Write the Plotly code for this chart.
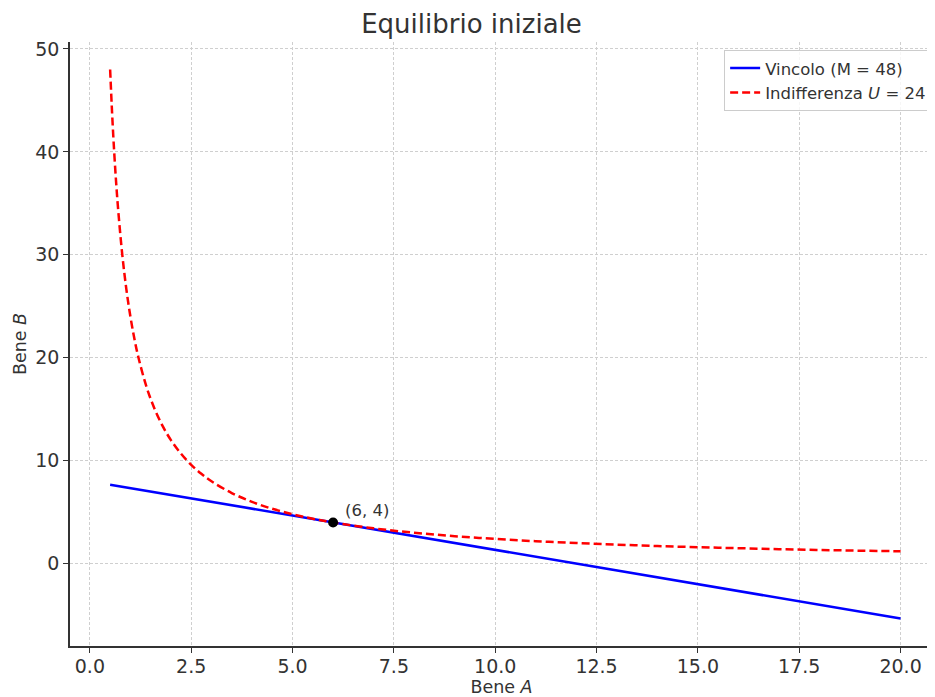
import plotly.graph_objects as go

# Budget line (two endpoints)
budget_A = [0.5, 20.0]
budget_B = [7.67, -5.33]

# Indifference curve points
indiff_A = [0.5, 0.55, 0.6, 0.65, 0.7, 0.8, 0.9, 1.0, 1.1, 1.2, 1.4, 1.6, 1.8, 2.0,
            2.25, 2.5, 2.75, 3.0, 3.5, 4.0, 4.5, 5.0, 5.5, 6.0, 7.0, 8.0, 9.0, 10.0,
            11.0, 12.0, 13.0, 14.0, 15.0, 16.0, 17.0, 18.0, 19.0, 20.0]
indiff_B = [48.0, 43.64, 40.0, 36.92, 34.29, 30.0, 26.67, 24.0, 21.82, 20.0, 17.14, 15.0,
            13.33, 12.0, 10.67, 9.6, 8.73, 8.0, 6.86, 6.0, 5.33, 4.8, 4.36, 4.0, 3.43,
            3.0, 2.67, 2.4, 2.18, 2.0, 1.85, 1.71, 1.6, 1.5, 1.41, 1.33, 1.26, 1.2]

eq_A = [6]
eq_B = [4]
eq_label = "(6, 4)"

x_ticks = [0, 2.5, 5, 7.5, 10, 12.5, 15, 17.5, 20]
y_ticks = [0, 10, 20, 30, 40, 50]

font = "DejaVu Sans"
txt = "#333333"

W, H = 927, 689  # page body has an 8px margin

fig = go.Figure()
fig.add_trace(go.Scatter(x=budget_A, y=budget_B, mode="lines",
                         line=dict(color="blue", width=2.5),
                         name="Vincolo (M = 48)"))
fig.add_trace(go.Scatter(x=indiff_A, y=indiff_B, mode="lines",
                         line=dict(color="red", width=2.5, dash="8px,4px", shape="spline"),
                         name="Indifferenza <i>U</i> = 24"))
fig.add_trace(go.Scatter(x=eq_A, y=eq_B, mode="markers",
                         marker=dict(color="black", size=10),
                         showlegend=False))
fig.add_annotation(x=eq_A[0], y=eq_B[0], text=eq_label, showarrow=False,
                   xanchor="left", yanchor="bottom", xshift=10, yshift=0,
                   font=dict(family=font, size=16.5, color=txt))

axis_common = dict(
    showgrid=True, gridcolor="#cfcfcf", griddash="3px,2px", gridwidth=1,
    zeroline=False, showline=True, linecolor="#333333", linewidth=1.5,
    ticks="outside", ticklen=5, tickcolor="#333333",
    tickfont=dict(family=font, size=19, color=txt),
)

fig.update_layout(
    width=W, height=H,
    margin=dict(l=62, r=2, t=34, b=51),
    paper_bgcolor="white", plot_bgcolor="white",
    title=dict(text="Equilibrio iniziale", x=0.5, xanchor="center",
               y=1 - 16 / H, yanchor="middle",
               font=dict(family=font, size=26, color=txt)),
    font=dict(family=font, color=txt),
    xaxis=dict(range=[-0.49, 20.8], tickvals=x_ticks,
               ticktext=[f"{v:.1f}" for v in x_ticks],
               ticklabelstandoff=-3,
               title=dict(text="Bene <i>A</i>", font=dict(family=font, size=17.5, color=txt),
                          standoff=6),
               **axis_common),
    yaxis=dict(range=[-8.0, 50.67], tickvals=y_ticks,
               title=dict(text="Bene <i>B</i>", font=dict(family=font, size=17.5, color=txt),
                          standoff=4),
               **axis_common),
    legend=dict(x=0.999, y=0.987, xanchor="right", yanchor="top",
                bgcolor="rgba(255,255,255,0.8)", bordercolor="#cccccc", borderwidth=1,
                font=dict(family=font, size=16.5, color=txt)),
)

fig.write_html("out.html")
